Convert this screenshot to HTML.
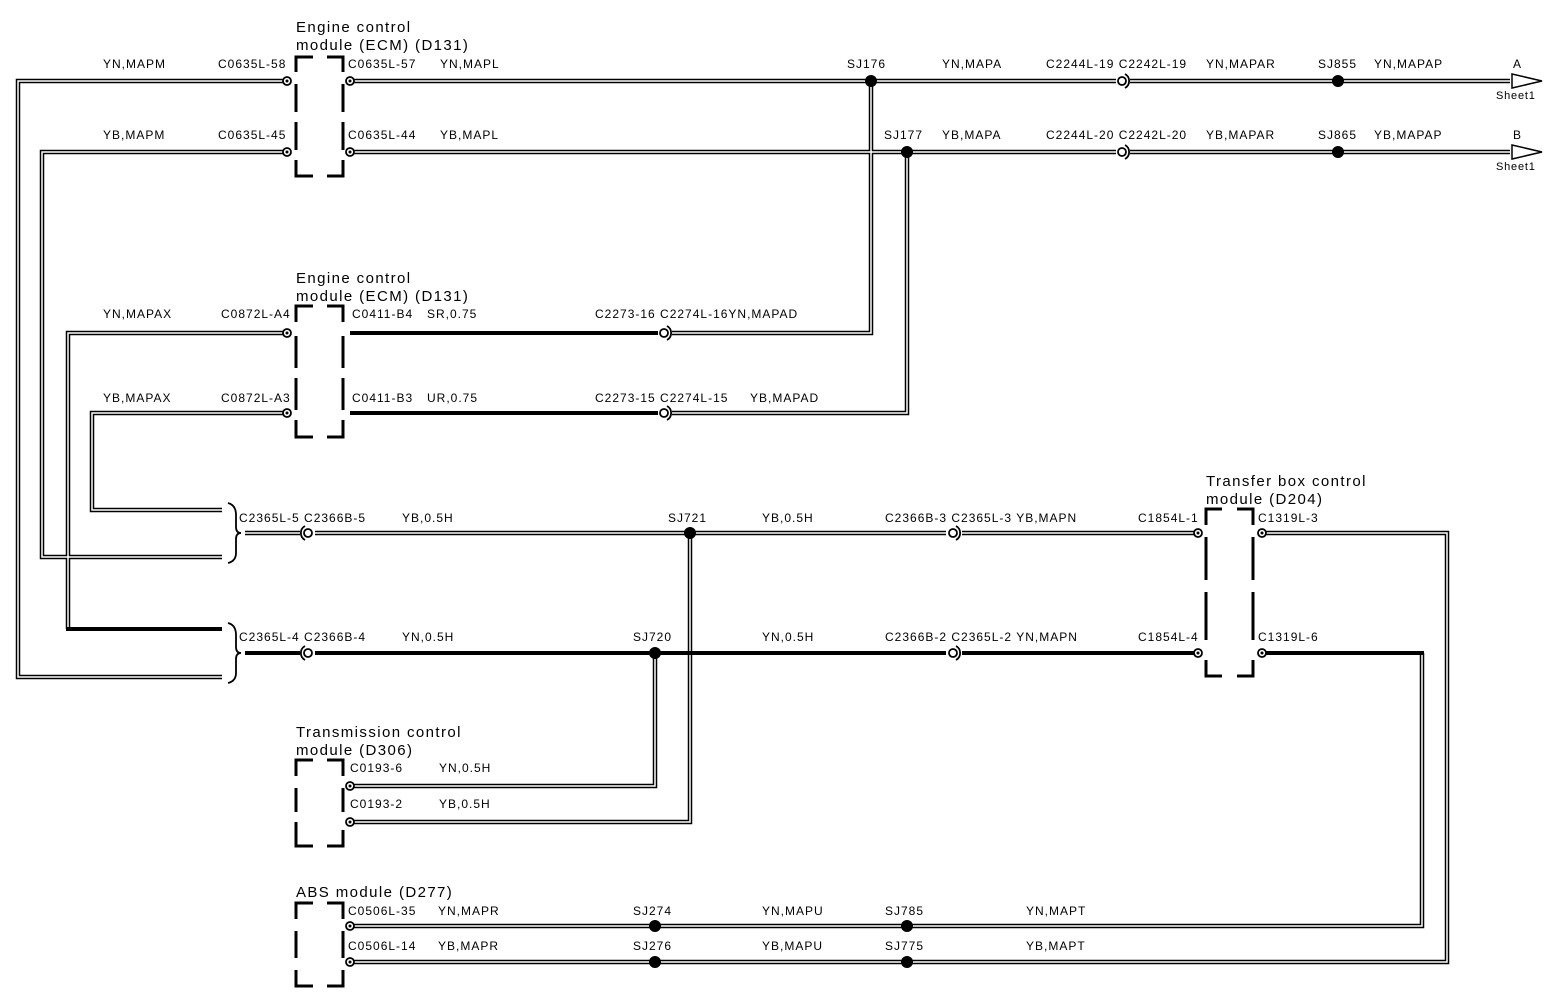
<!DOCTYPE html>
<html><head><meta charset="utf-8"><style>
html,body{margin:0;padding:0;background:#fff}
svg{display:block}
text{font-family:"Liberation Sans",sans-serif;font-size:12px;letter-spacing:1px;fill:#000}
.t{font-size:15px;letter-spacing:1.4px}
.s{font-size:11px;letter-spacing:0.8px}
.dw{fill:none;stroke:#000;stroke-width:4.5}
.dwi{fill:none;stroke:#fff;stroke-width:1.5}
.th{fill:none;stroke:#000;stroke-width:4}
.bx{fill:none;stroke:#000;stroke-width:3}
</style></head><body>
<svg width="1558" height="1008" viewBox="0 0 1558 1008" xmlns="http://www.w3.org/2000/svg">
<defs>
<g id="cl"><circle cx="0" cy="0" r="4" fill="#fff" stroke="#000" stroke-width="1.8"/><circle cx="0" cy="0" r="1.5" fill="#000"/></g>
<g id="ip"><circle cx="0" cy="0" r="4" fill="#fff" stroke="#000" stroke-width="1.8"/><path d="M3,-7 A8,8 0 0 1 3,7" fill="none" stroke="#000" stroke-width="1.8"/></g>
<g id="ipl"><circle cx="0" cy="0" r="4" fill="#fff" stroke="#000" stroke-width="1.8"/><path d="M-3,-7 A8,8 0 0 0 -3,7" fill="none" stroke="#000" stroke-width="1.8"/></g>
</defs>

<g>
<path class="dw" d="M288,81 H18 V677 H222"/>
<path class="dw" d="M288,152 H42 V557 H222"/>
<path class="dw" d="M288,333 H68 V629"/>
<path class="dw" d="M350,81 H1116 M1130,81 H1510"/>
<path class="dw" d="M350,152 H1116 M1130,152 H1510"/>
<path class="dw" d="M871,81 V333 H672"/>
<path class="dw" d="M907,152 V413 H672"/>
<path class="dw" d="M288,413 H92 V510 H222"/>
<path class="dw" d="M245,533 H300 M315,533 H946 M962,533 H1195"/>
<path class="dw" d="M690,533 V822 H350"/>
<path class="dw" d="M655,653 V786 H350"/>
<path class="dw" d="M1262,533 H1447 V962 H350"/>
<path class="dw" d="M1422,653 V926 H350"/>
</g>
<g>
<path class="dwi" d="M288,81 H18 V677 H222"/>
<path class="dwi" d="M288,152 H42 V557 H222"/>
<path class="dwi" d="M288,333 H68 V629"/>
<path class="dwi" d="M350,81 H1116 M1130,81 H1510"/>
<path class="dwi" d="M350,152 H1116 M1130,152 H1510"/>
<path class="dwi" d="M871,81 V333 H672"/>
<path class="dwi" d="M907,152 V413 H672"/>
<path class="dwi" d="M288,413 H92 V510 H222"/>
<path class="dwi" d="M245,533 H300 M315,533 H946 M962,533 H1195"/>
<path class="dwi" d="M690,533 V822 H350"/>
<path class="dwi" d="M655,653 V786 H350"/>
<path class="dwi" d="M1262,533 H1447 V962 H350"/>
<path class="dwi" d="M1422,653 V926 H350"/>
</g>
<path class="th" d="M66,629 H222"/>
<path class="th" d="M350,333 H658 M350,413 H658"/>
<path class="th" d="M245,653 H300 M315,653 H946 M962,653 H1195"/>
<path class="th" d="M1262,653 H1424"/>

<path d="M1512,74 L1542,81 L1512,88 Z" fill="#fff" stroke="#000" stroke-width="1.5"/>
<path d="M1512,145 L1542,152 L1512,159 Z" fill="#fff" stroke="#000" stroke-width="1.5"/>

<path d="M228,503 Q236,505 236,515 V527 Q236,533 241,533 Q236,533 236,539 V553 Q236,561 228,563" fill="none" stroke="#000" stroke-width="1.8"/>
<path d="M228,623 Q236,625 236,635 V647 Q236,653 241,653 Q236,653 236,659 V673 Q236,681 228,683" fill="none" stroke="#000" stroke-width="1.8"/>

<g class="bx">
<path d="M296,72 V57 H313 M327,57 H343 V72 M296,84 V112 M343,84 V112 M296,122 V150 M343,122 V150 M296,160 V176 H313 M327,176 H343 V160"/>
<path d="M296,322 V306 H313 M327,306 H343 V322 M296,336 V368 M343,336 V368 M296,378 V410 M343,378 V410 M296,420 V437 H313 M327,437 H343 V420"/>
<path d="M296,776 V760 H313 M327,760 H343 V776 M296,788 V812 M343,788 V812 M296,822 V846 H313 M327,846 H343 V830"/>
<path d="M296,919 V903 H313 M327,903 H343 V919 M296,931 V958 M343,931 V958 M296,970 V986 H313 M327,986 H343 V970"/>
<path d="M1206,525 V509 H1222 M1237,509 H1253 V525 M1206,537 V580 M1253,537 V580 M1206,592 V640 M1253,592 V640 M1206,660 V676 H1222 M1237,676 H1253 V660"/>
</g>

<use href="#cl" x="287" y="81"/><use href="#cl" x="350" y="81"/>
<use href="#cl" x="287" y="152"/><use href="#cl" x="350" y="152"/>
<use href="#cl" x="287" y="333"/><use href="#cl" x="287" y="413"/>
<use href="#cl" x="350" y="786"/><use href="#cl" x="350" y="822"/>
<use href="#cl" x="350" y="926"/><use href="#cl" x="350" y="962"/>
<use href="#cl" x="1198" y="533"/><use href="#cl" x="1198" y="653"/>
<use href="#cl" x="1262" y="533"/><use href="#cl" x="1262" y="653"/>
<use href="#ip" x="1122" y="81"/><use href="#ip" x="1122" y="152"/>
<use href="#ip" x="664" y="333"/><use href="#ip" x="664" y="413"/>
<use href="#ipl" x="308" y="533"/><use href="#ipl" x="308" y="653"/>
<use href="#ip" x="953" y="533"/><use href="#ip" x="953" y="653"/>

<g fill="#000">
<circle cx="871" cy="81" r="6"/><circle cx="907" cy="152" r="6"/>
<circle cx="1338" cy="81" r="6"/><circle cx="1338" cy="152" r="6"/>
<circle cx="690" cy="533" r="6"/><circle cx="655" cy="653" r="6"/>
<circle cx="655" cy="926" r="6"/><circle cx="907" cy="926" r="6"/>
<circle cx="655" cy="962" r="6"/><circle cx="907" cy="962" r="6"/>
</g>

<text class="t" x="296" y="32">Engine control</text>
<text class="t" x="296" y="50">module (ECM) (D131)</text>
<text class="t" x="296" y="283">Engine control</text>
<text class="t" x="296" y="301">module (ECM) (D131)</text>
<text class="t" x="1206" y="486">Transfer box control</text>
<text class="t" x="1206" y="504">module (D204)</text>
<text class="t" x="296" y="737">Transmission control</text>
<text class="t" x="296" y="755">module (D306)</text>
<text class="t" x="296" y="897">ABS module (D277)</text>

<text x="103" y="68">YN,MAPM</text><text x="218" y="68">C0635L-58</text>
<text x="348" y="68">C0635L-57</text><text x="440" y="68">YN,MAPL</text>
<text x="847" y="68">SJ176</text><text x="942" y="68">YN,MAPA</text>
<text x="1046" y="68">C2244L-19 C2242L-19</text><text x="1206" y="68">YN,MAPAR</text>
<text x="1318" y="68">SJ855</text><text x="1374" y="68">YN,MAPAP</text>
<text x="1513" y="68">A</text><text class="s" x="1496" y="99">Sheet1</text>

<text x="103" y="139">YB,MAPM</text><text x="218" y="139">C0635L-45</text>
<text x="348" y="139">C0635L-44</text><text x="440" y="139">YB,MAPL</text>
<text x="884" y="139">SJ177</text><text x="942" y="139">YB,MAPA</text>
<text x="1046" y="139">C2244L-20 C2242L-20</text><text x="1206" y="139">YB,MAPAR</text>
<text x="1318" y="139">SJ865</text><text x="1374" y="139">YB,MAPAP</text>
<text x="1513" y="139">B</text><text class="s" x="1496" y="170">Sheet1</text>

<text x="103" y="318">YN,MAPAX</text><text x="221" y="318">C0872L-A4</text>
<text x="352" y="318">C0411-B4</text><text x="427" y="318">SR,0.75</text>
<text x="595" y="318">C2273-16 C2274L-16YN,MAPAD</text>
<text x="103" y="402">YB,MAPAX</text><text x="221" y="402">C0872L-A3</text>
<text x="352" y="402">C0411-B3</text><text x="427" y="402">UR,0.75</text>
<text x="595" y="402">C2273-15 C2274L-15</text><text x="750" y="402">YB,MAPAD</text>

<text x="239" y="522">C2365L-5 C2366B-5</text><text x="402" y="522">YB,0.5H</text>
<text x="668" y="522">SJ721</text><text x="762" y="522">YB,0.5H</text>
<text x="885" y="522">C2366B-3 C2365L-3 YB,MAPN</text>
<text x="1138" y="522">C1854L-1</text><text x="1258" y="522">C1319L-3</text>

<text x="239" y="641">C2365L-4 C2366B-4</text><text x="402" y="641">YN,0.5H</text>
<text x="633" y="641">SJ720</text><text x="762" y="641">YN,0.5H</text>
<text x="885" y="641">C2366B-2 C2365L-2 YN,MAPN</text>
<text x="1138" y="641">C1854L-4</text><text x="1258" y="641">C1319L-6</text>

<text x="350" y="772">C0193-6</text><text x="439" y="772">YN,0.5H</text>
<text x="350" y="808">C0193-2</text><text x="439" y="808">YB,0.5H</text>

<text x="348" y="915">C0506L-35</text><text x="438" y="915">YN,MAPR</text>
<text x="633" y="915">SJ274</text><text x="762" y="915">YN,MAPU</text>
<text x="885" y="915">SJ785</text><text x="1026" y="915">YN,MAPT</text>
<text x="348" y="950">C0506L-14</text><text x="438" y="950">YB,MAPR</text>
<text x="633" y="950">SJ276</text><text x="762" y="950">YB,MAPU</text>
<text x="885" y="950">SJ775</text><text x="1026" y="950">YB,MAPT</text>
</svg>
</body></html>
